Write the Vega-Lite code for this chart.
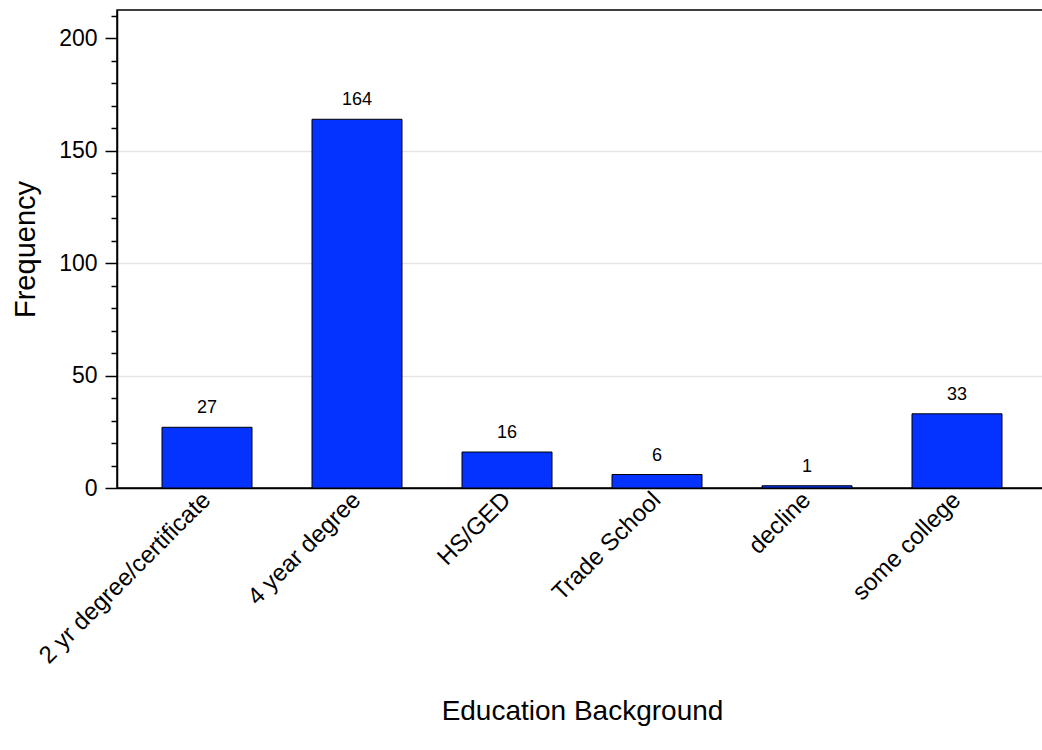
{
  "$schema": "https://vega.github.io/schema/vega-lite/v6.json",
  "autosize": "none",
  "padding": {"left": 117, "top": 10, "right": 0, "bottom": 262},
  "width": 930,
  "height": 478,
  "background": "white",
  "config": {
    "view": {"stroke": "black", "strokeWidth": 1.5},
    "font": "Liberation Sans"
  },
  "data": {
    "values": [
      {"education": "2 yr degree/certificate", "count": 27},
      {"education": "4 year degree", "count": 164},
      {"education": "HS/GED", "count": 16},
      {"education": "Trade School", "count": 6},
      {"education": "decline", "count": 1},
      {"education": "some college", "count": 33}
    ]
  },
  "encoding": {
    "x": {
      "field": "education",
      "type": "nominal",
      "sort": null,
      "scale": {"paddingInner": 0.4, "paddingOuter": 0.3},
      "axis": {
        "title": "Education Background",
        "titleFontSize": 28,
        "titleFontWeight": "normal",
        "titleColor": "black",
        "titlePadding": 30,
        "labelAngle": -45,
        "labelAlign": "right",
        "labelBaseline": "middle",
        "labelFontSize": 24,
        "labelLimit": 0,
        "labelColor": "black",
        "labelPadding": 8,
        "ticks": false,
        "domainColor": "black",
        "domainWidth": 1.5
      }
    },
    "y": {
      "field": "count",
      "type": "quantitative",
      "scale": {"domain": [0, 212.6], "nice": false},
      "axis": {
        "title": "Frequency",
        "titleFontSize": 29,
        "titleFontWeight": "normal",
        "titleColor": "black",
        "titlePadding": 18,
        "values": [0, 10, 20, 30, 40, 50, 60, 70, 80, 90, 100, 110, 120, 130, 140, 150, 160, 170, 180, 190, 200, 210],
        "labelExpr": "datum.value % 50 === 0 ? datum.label : ''",
        "labelFontSize": 23,
        "labelColor": "black",
        "labelPadding": 8,
        "tickColor": "black",
        "tickWidth": 1.5,
        "tickSize": {"condition": {"test": "datum.value % 50 === 0", "value": 12}, "value": 6},
        "domainColor": "black",
        "domainWidth": 1.5,
        "grid": true,
        "gridColor": "#e5e5e5",
        "gridWidth": 1.5,
        "gridOpacity": {"condition": {"test": "datum.value === 50 || datum.value === 100 || datum.value === 150", "value": 1}, "value": 0}
      }
    }
  },
  "layer": [
    {
      "mark": {"type": "bar", "color": "#0433ff", "stroke": "black", "strokeWidth": 1}
    },
    {
      "mark": {"type": "text", "baseline": "alphabetic", "dy": -14, "fontSize": 18, "color": "black"},
      "encoding": {"text": {"field": "count", "type": "quantitative"}}
    }
  ]
}
